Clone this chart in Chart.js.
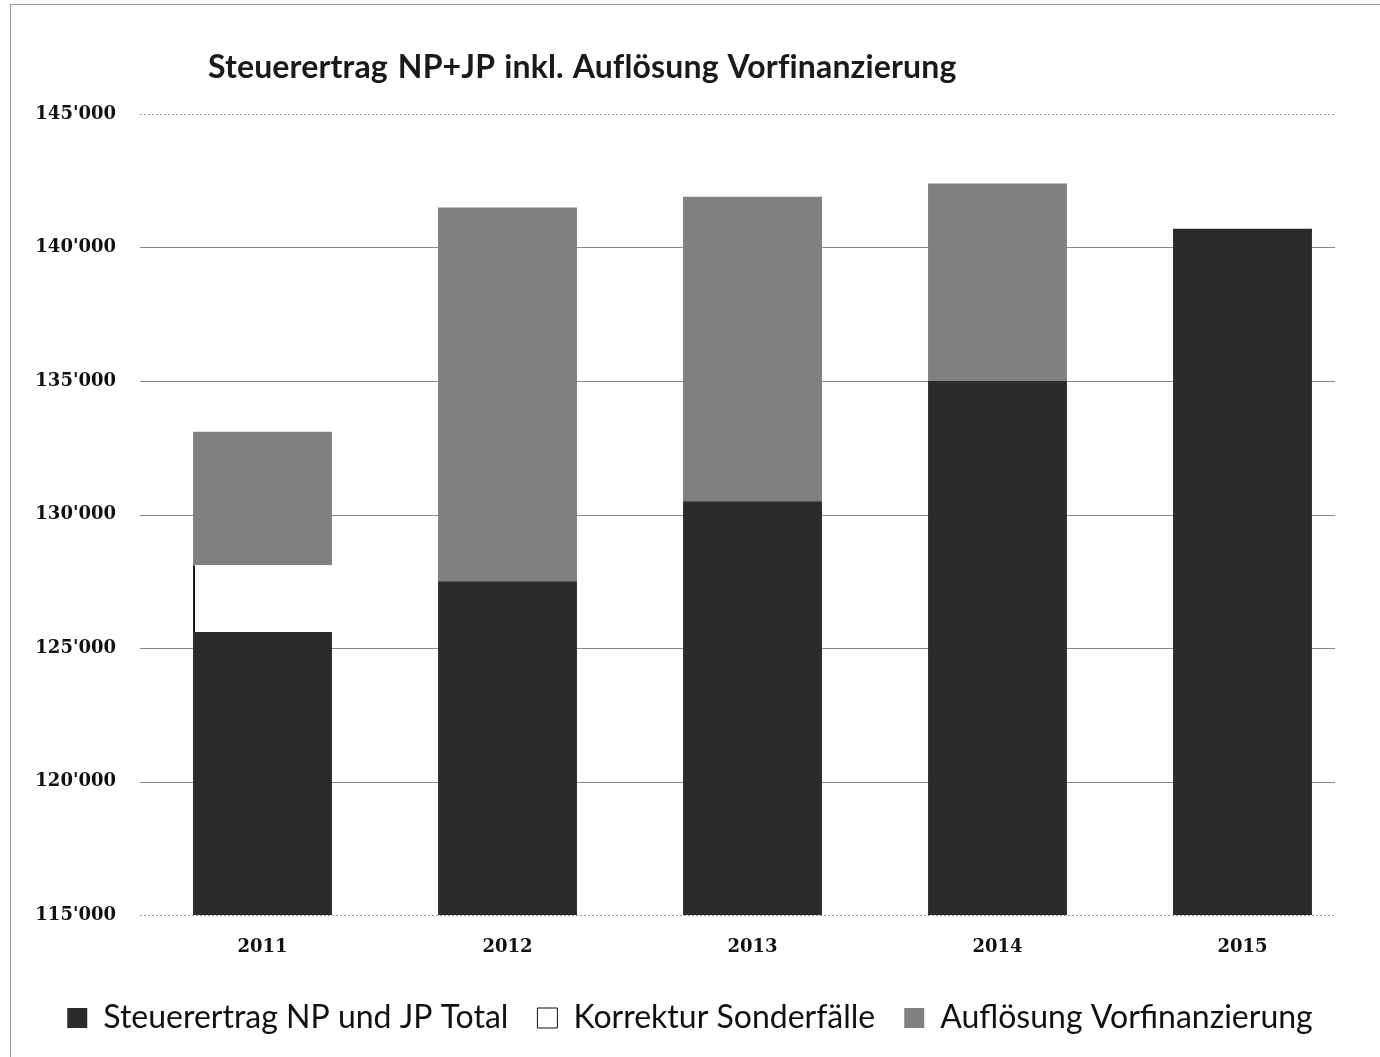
<!DOCTYPE html>
<html>
<head>
<meta charset="utf-8">
<script src="https://cdn.jsdelivr.net/npm/chart.js@4"></script>
<style>
  html, body { margin: 0; padding: 0; background: #fff; }
  #wrap { position: relative; width: 1380px; height: 1057px; overflow: hidden; }
  #frame { position: absolute; left: 10px; top: 4px; width: 1400px; height: 1100px; border: 1px solid #9a9a9a; box-sizing: border-box; }
  #title { position: absolute; left: 208px; top: 46px; font: bold 32px Lato, "Open Sans", sans-serif; color: #1a1a1a; letter-spacing: 0.15px; word-spacing: 2px; }
  canvas { position: absolute; left: 0; top: 0; }
</style>
</head>
<body>
<div id="wrap">
  <div id="frame"></div>
  <canvas id="chart" width="1380" height="1057"></canvas>
  <div id="title">Steuerertrag NP+JP inkl. Auflösung Vorfinanzierung</div>
</div>
<script>
// chart data
const years = ['2011', '2012', '2013', '2014', '2015'];
const steuerertrag = [125600, 127500, 130500, 135000, 140700];
const korrektur = [2500, 0, 0, 0, 0];
const aufloesung = [5000, 14000, 11400, 7400, 0];
const yTicks = [115000, 120000, 125000, 130000, 135000, 140000, 145000];

function fmt(v){
  return String(v).replace(/\B(?=(\d{3})+(?!\d))/g, "'");
}

// horizontal gridlines, drawn from the y scale but stopping short of the right edge (as in the original)
const gridLines = {
  id: 'gridLines',
  beforeDatasetsDraw(chart){
    const y = chart.scales.y, area = chart.chartArea, c = chart.ctx;
    c.save();
    y.ticks.forEach(t => {
      const py = Math.round(y.getPixelForValue(t.value)) + 0.5;
      const edge = t.value === y.min || t.value === y.max;
      c.strokeStyle = edge ? '#9a9a9a' : '#8a8a8a';
      c.lineWidth = 1;
      c.setLineDash(edge ? [2, 2] : []);
      c.beginPath();
      c.moveTo(area.left, py);
      c.lineTo(area.right - 30, py);
      c.stroke();
    });
    c.restore();
  }
};

document.addEventListener('DOMContentLoaded', () => {
  const ctx = document.getElementById('chart').getContext('2d');
  new Chart(ctx, {
    type: 'bar',
    data: {
      labels: years,
      datasets: [
        { label: 'Steuerertrag NP und JP Total', data: steuerertrag, backgroundColor: '#2b2b2b', borderWidth: 0 },
        { label: 'Korrektur Sonderfälle', data: korrektur, backgroundColor: '#ffffff', borderColor: '#111',
          borderWidth: {left: 2, top: 0, right: 0, bottom: 0}, borderSkipped: false },
        { label: 'Auflösung Vorfinanzierung', data: aufloesung, backgroundColor: '#808080', borderWidth: 0 }
      ]
    },
    plugins: [gridLines],
    options: {
      responsive: false,
      animation: false,
      layout: { padding: { top: 114, right: 15, left: 15, bottom: 13 } },
      datasets: { bar: { categoryPercentage: 1, barPercentage: 0.567 } },
      plugins: {
        tooltip: { enabled: false },
        legend: {
          position: 'bottom',
          labels: {
            color: '#111',
            font: { family: 'Lato, "Open Sans", sans-serif', size: 32 },
            boxWidth: 20,
            boxHeight: 20,
            padding: 29,
            generateLabels: chart => chart.data.datasets.map((ds, i) => ({
              text: ds.label,
              fillStyle: ds.backgroundColor,
              strokeStyle: i === 1 ? '#111' : ds.backgroundColor,
              lineWidth: i === 1 ? 1 : 0,
              datasetIndex: i,
              fontColor: '#111'
            }))
          }
        }
      },
      scales: {
        x: {
          stacked: true,
          grid: { display: false },
          border: { display: false },
          ticks: { color: '#111', padding: 14, font: { family: '"DejaVu Serif", serif', size: 18, weight: 'bold' } },
          afterFit: s => { s.height = 58; }
        },
        y: {
          stacked: true,
          min: 115000,
          max: 145000,
          afterFit: s => { s.width = 125; },
          afterBuildTicks: s => { s.ticks = yTicks.map(v => ({ value: v })); },
          grid: { display: false },
          border: { display: false },
          ticks: {
            color: '#111',
            padding: 16,
            font: { family: '"DejaVu Serif", serif', size: 18, weight: 'bold' },
            callback: v => fmt(v)
          }
        }
      }
    }
  });
});
</script>
</body>
</html>
